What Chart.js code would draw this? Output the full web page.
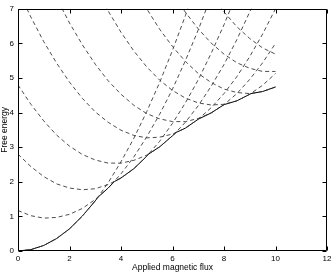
<!DOCTYPE html>
<html>
<head>
<meta charset="utf-8">
<script src="https://cdn.jsdelivr.net/npm/chart.js@4.4.0/dist/chart.umd.min.js"></script>
<style>
html, body { margin: 0; padding: 0; background: #fff; }
#wrap { width: 335px; height: 273px; }
</style>
</head>
<body>
<div id="wrap"><canvas id="myChart" width="335" height="273"></canvas></div>
<script>
// applied flux samples
const flux = [0, 0.5, 1, 1.5, 2, 2.5, 3, 3.5, 4, 4.5, 5, 5.5, 6, 6.5, 7, 7.5, 8, 8.5, 9, 9.5, 10];

// free energy of each vortex state (dashed)
const stateL0 = [0, 0.04, 0.16, 0.36, 0.64, 1.01, 1.45, 1.97, 2.58, 3.26, 4.03, 4.87, 5.80, 6.80, 7.89, null, null, null, null, null, null];
const stateL1 = [1.17, 1.02, 0.95, 0.97, 1.06, 1.23, 1.49, 1.82, 2.23, 2.72, 3.30, 3.95, 4.68, 5.50, 6.39, 7.36, null, null, null, null, null];
const stateL2 = [2.80, 2.44, 2.15, 1.94, 1.82, 1.77, 1.80, 1.92, 2.11, 2.38, 2.74, 3.17, 3.69, 4.28, 4.95, 5.71, 6.54, 7.45, null, null, null];
const stateL3 = [4.80, 4.24, 3.76, 3.35, 3.03, 2.79, 2.63, 2.54, 2.54, 2.62, 2.77, 3.01, 3.33, 3.72, 4.20, 4.76, 5.39, 6.11, 6.91, 7.78, null];
const stateL4 = [7.55, 6.76, 6.05, 5.43, 4.88, 4.41, 4.02, 3.72, 3.49, 3.34, 3.27, 3.29, 3.38, 3.55, 3.81, 4.14, 4.55, 5.04, 5.62, 6.27, 7.00];
const stateL5 = [null, null, 8.11, 7.31, 6.59, 5.96, 5.40, 4.92, 4.53, 4.21, 3.97, 3.82, 3.74, 3.74, 3.83, 3.99, 4.23, 4.55, 4.96, 5.44, 6.00];
const stateL6 = [null, null, null, null, null, null, 7.64, 6.94, 6.32, 5.78, 5.32, 4.94, 4.64, 4.42, 4.28, 4.22, 4.24, 4.34, 4.53, 4.79, 5.13];
const stateL7 = [null, null, null, null, null, null, null, null, null, 7.66, 7.00, 6.41, 5.91, 5.48, 5.13, 4.87, 4.68, 4.58, 4.55, 4.61, 4.74];
const stateL8 = [null, null, null, null, null, null, null, null, null, null, null, null, 7.47, 6.90, 6.42, 6.01, 5.69, 5.44, 5.28, 5.19, 5.19];
const stateL9 = [null, null, null, null, null, null, null, null, null, null, null, null, null, null, null, 7.41, 6.91, 6.48, 6.14, 5.87, 5.69];

// ground state (solid), including the kinks where states switch
const groundFlux = [0, 0.5, 1, 1.5, 2, 2.5, 3, 3.1, 3.5, 3.75, 4, 4.5, 5, 5.05, 5.5, 6, 6.15, 6.5, 7, 7.5, 8, 8.5, 9, 9.05, 9.5, 10];
const groundEnergy = [0, 0.04, 0.16, 0.36, 0.64, 1.01, 1.45, 1.55, 1.82, 2.01, 2.11, 2.38, 2.74, 2.79, 3.01, 3.33, 3.43, 3.55, 3.81, 3.99, 4.23, 4.34, 4.53, 4.55, 4.61, 4.74];

const xTicks = [0, 2, 4, 6, 8, 10, 12];
const yTicks = [0, 1, 2, 3, 4, 5, 6, 7];

const states = [stateL0, stateL1, stateL2, stateL3, stateL4, stateL5, stateL6, stateL7, stateL8, stateL9];

const datasets = states.map(function (s) {
    return {
        data: flux.map((x, i) => ({ x: x, y: s[i] })),
        borderColor: '#3a3a3a',
        borderWidth: 0.9,
        borderDash: [4, 3],
        pointRadius: 0,
        fill: false,
        tension: 0
    };
});
datasets.push({
    data: groundFlux.map((x, i) => ({ x: x, y: groundEnergy[i] })),
    borderColor: '#000',
    borderWidth: 1,
    pointRadius: 0,
    fill: false,
    tension: 0
});

// matlab-like box with inward ticks on all four sides
const boxTicks = {
    id: 'boxTicks',
    afterDatasetsDraw(chart) {
        const { ctx, chartArea: a, scales } = chart;
        const L = Math.round(a.left) + 0.5, R = Math.round(a.right) - 0.5;
        const T = Math.round(a.top) + 0.5, B = Math.round(a.bottom) - 0.5;
        const len = 4;
        ctx.save();
        ctx.strokeStyle = '#000';
        ctx.lineWidth = 1;
        ctx.beginPath();
        ctx.rect(L, T, R - L, B - T);
        xTicks.forEach(v => {
            const px = Math.round(scales.x.getPixelForValue(v)) + 0.5;
            ctx.moveTo(px, B); ctx.lineTo(px, B - len);
            ctx.moveTo(px, T); ctx.lineTo(px, T + len);
        });
        yTicks.forEach(v => {
            const py = Math.round(scales.y.getPixelForValue(v)) + 0.5;
            ctx.moveTo(L, py); ctx.lineTo(L + len, py);
            ctx.moveTo(R, py); ctx.lineTo(R - len, py);
        });
        ctx.stroke();
        ctx.restore();
    }
};

const font = { family: "'Liberation Sans', Arial, sans-serif", size: 8 };

new Chart(document.getElementById('myChart'), {
    type: 'line',
    data: { datasets: datasets },
    options: {
        responsive: false,
        animation: false,
        layout: { padding: { top: 7, right: 8, left: 0, bottom: 0 } },
        plugins: { legend: { display: false }, tooltip: { enabled: false } },
        scales: {
            x: {
                type: 'linear',
                min: 0, max: 12,
                afterBuildTicks: s => { s.ticks = xTicks.map(v => ({ value: v })); },
                afterFit: s => { s.height = 22; },
                grid: { display: false, drawTicks: false },
                border: { display: false },
                ticks: { color: '#000', font: font, padding: 3, maxRotation: 0 },
                title: { display: true, text: 'Applied magnetic flux', color: '#000', font: { family: font.family, size: 8.5 }, padding: 0 }
            },
            y: {
                type: 'linear',
                min: 0, max: 7,
                afterBuildTicks: s => { s.ticks = yTicks.map(v => ({ value: v })); },
                afterFit: s => { s.width = 18; },
                grid: { display: false, drawTicks: false },
                border: { display: false },
                ticks: { color: '#000', font: font, padding: 4 },
                title: { display: true, text: 'Free energy', color: '#000', font: { family: font.family, size: 8.5 }, padding: 0 }
            }
        }
    },
    plugins: [boxTicks]
});
</script>
</body>
</html>
